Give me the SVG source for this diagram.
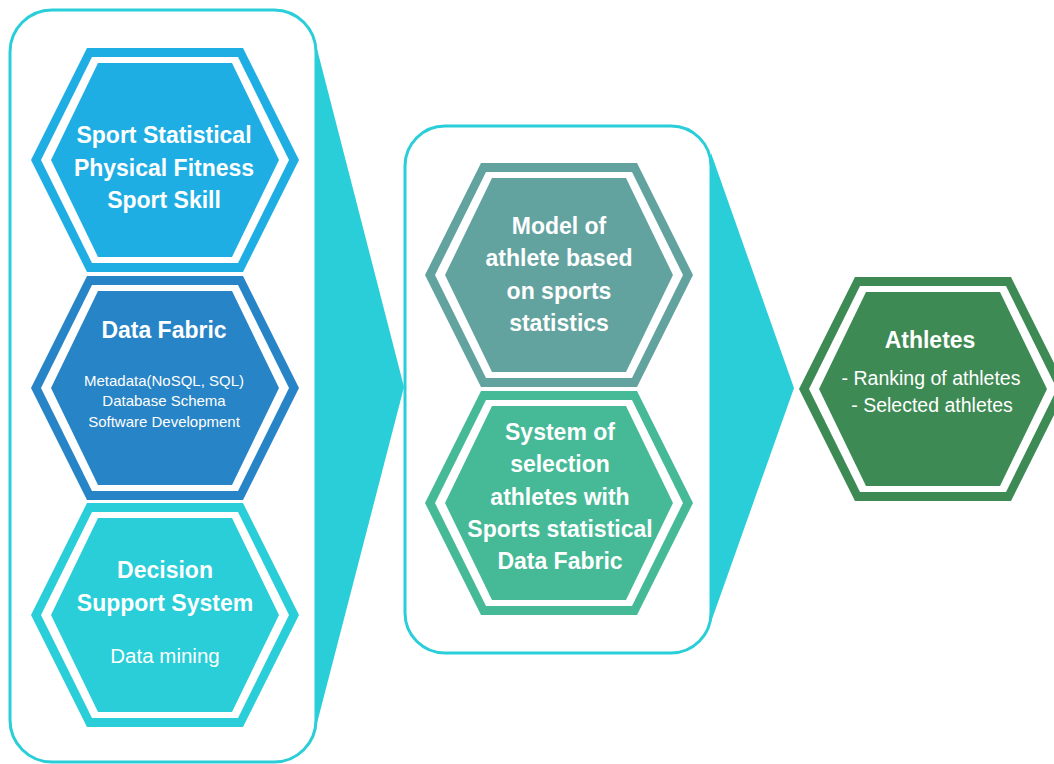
<svg xmlns="http://www.w3.org/2000/svg" xmlns:xlink="http://www.w3.org/1999/xlink" width="1054" height="764" viewBox="0 0 1054 764">
  <style>
    .panel { fill: #FFFFFF; stroke: #29CED8; stroke-width: 3; }
    .chevron { fill: #29CED8; }
    .ring { fill: #FFFFFF; }
    text { fill: #FFFFFF; font-family: "Liberation Sans", Arial, sans-serif; text-anchor: middle; }
    .title { font-size: 23px; font-weight: bold; }
    .small { font-size: 15px; }
    .sub { font-size: 20.5px; }
    .list { font-size: 19.5px; }
  </style>
  <defs>
    <!-- hexagon layers, centred on the origin -->
    <polygon id="hexOuter" points="-78,-112 78,-112 134,0 78,112 -78,112 -134,0"/>
    <polygon id="hexRing" points="-73,-103 73,-103 124,0 73,103 -73,103 -124,0"/>
    <polygon id="hexInner" points="-67,-97 67,-97 114,0 67,97 -67,97 -114,0"/>
  </defs>

  <rect width="1054" height="764" fill="#FFFFFF"/>

  <!-- container panels -->
  <g id="panel-inputs">
    <rect class="panel" x="10" y="10" width="306" height="752" rx="42" ry="42"/>
  </g>
  <g id="panel-processing">
    <rect class="panel" x="405" y="126" width="306" height="527" rx="40" ry="40"/>
  </g>

  <!-- chevron connectors between the stages -->
  <g id="connectors">
    <polygon class="chevron" points="316,45 404,387 316,727"/>
    <polygon class="chevron" points="711,153 794,388 711,622"/>
  </g>

  <!-- left column -->
  <g id="node-sport-statistical" transform="translate(165,160)">
    <use xlink:href="#hexOuter" href="#hexOuter" fill="#1FAEE3"/>
    <use xlink:href="#hexRing" href="#hexRing" class="ring"/>
    <use xlink:href="#hexInner" href="#hexInner" fill="#1FAEE3"/>
    <text class="title" x="-1" y="-17">Sport Statistical</text>
    <text class="title" x="-1" y="16">Physical Fitness</text>
    <text class="title" x="-1" y="48">Sport Skill</text>
  </g>

  <g id="node-data-fabric" transform="translate(165,388)">
    <use xlink:href="#hexOuter" href="#hexOuter" fill="#2784C6"/>
    <use xlink:href="#hexRing" href="#hexRing" class="ring"/>
    <use xlink:href="#hexInner" href="#hexInner" fill="#2784C6"/>
    <text class="title" x="-1" y="-50">Data Fabric</text>
    <text class="small" x="-1" y="-2">Metadata(NoSQL, SQL)</text>
    <text class="small" x="-1" y="18">Database Schema</text>
    <text class="small" x="-1" y="39">Software Development</text>
  </g>

  <g id="node-decision-support" transform="translate(165,615)">
    <use xlink:href="#hexOuter" href="#hexOuter" fill="#29CED8"/>
    <use xlink:href="#hexRing" href="#hexRing" class="ring"/>
    <use xlink:href="#hexInner" href="#hexInner" fill="#29CED8"/>
    <text class="title" x="0" y="-37">Decision</text>
    <text class="title" x="0" y="-4">Support System</text>
    <text class="sub" x="0" y="48">Data mining</text>
  </g>

  <!-- middle column -->
  <g id="node-athlete-model" transform="translate(559,275)">
    <use xlink:href="#hexOuter" href="#hexOuter" fill="#63A39F"/>
    <use xlink:href="#hexRing" href="#hexRing" class="ring"/>
    <use xlink:href="#hexInner" href="#hexInner" fill="#63A39F"/>
    <text class="title" x="0" y="-41">Model of</text>
    <text class="title" x="0" y="-9">athlete based</text>
    <text class="title" x="0" y="24">on sports</text>
    <text class="title" x="0" y="56">statistics</text>
  </g>

  <g id="node-selection-system" transform="translate(559,503)">
    <use xlink:href="#hexOuter" href="#hexOuter" fill="#46BA97"/>
    <use xlink:href="#hexRing" href="#hexRing" class="ring"/>
    <use xlink:href="#hexInner" href="#hexInner" fill="#46BA97"/>
    <text class="title" x="1" y="-63">System of</text>
    <text class="title" x="1" y="-31">selection</text>
    <text class="title" x="1" y="2">athletes with</text>
    <text class="title" x="1" y="34">Sports statistical</text>
    <text class="title" x="1" y="66">Data Fabric</text>
  </g>

  <!-- result -->
  <g id="node-athletes" transform="translate(933,389)">
    <use xlink:href="#hexOuter" href="#hexOuter" fill="#3E8A54"/>
    <use xlink:href="#hexRing" href="#hexRing" class="ring"/>
    <use xlink:href="#hexInner" href="#hexInner" fill="#3E8A54"/>
    <text class="title" x="-3" y="-41">Athletes</text>
    <text class="list" x="-2" y="-4">- Ranking of athletes</text>
    <text class="list" x="-1" y="23">- Selected athletes</text>
  </g>
</svg>
